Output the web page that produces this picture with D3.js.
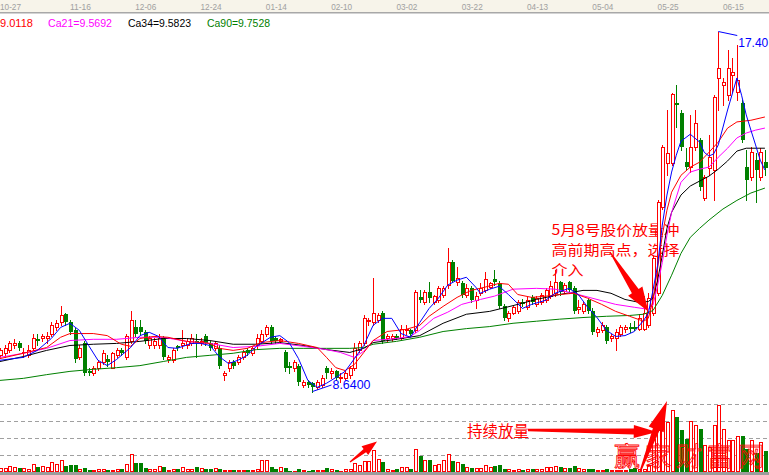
<!DOCTYPE html>
<html><head><meta charset="utf-8">
<script src="https://cdn.jsdelivr.net/npm/d3@7"></script>
<style>html,body{margin:0;padding:0;background:#fff;overflow:hidden}</style>
</head><body><svg id="c" width="769" height="475"></svg>
<script>
// ---------- DATA ----------
const dateLabels = ["10-27","11-16","12-06","12-24","01-14","02-10","03-02","03-22","04-13","05-04","05-25","06-15"];
const dateIndex  = [0,15,29,43,57,71,85,99,113,127,141,155];

const openP = [
9.52,9.57,9.64,9.76,9.83,9.59,9.54,9.71,9.91,9.93,
9.93,10.05,10.20,10.32,10.52,10.32,10.13,9.47,9.81,9.15,
9.10,9.22,9.35,9.44,9.22,9.52,9.64,9.47,9.88,10.20,
10.20,10.08,9.76,9.76,9.76,9.93,9.42,9.40,9.74,9.78,
9.76,9.81,9.88,9.81,9.98,9.83,9.69,9.71,9.05,9.20,
9.35,9.35,9.47,9.64,9.57,9.76,9.88,10.05,10.20,9.93,
9.86,9.61,9.25,9.20,9.27,8.81,8.86,8.84,8.74,8.81,
9.22,9.08,9.13,8.96,8.98,9.03,9.22,9.64,9.81,10.35,
10.32,10.37,10.54,9.93,9.93,10.00,9.95,10.13,10.13,10.13,
10.93,10.81,11.05,10.83,10.86,10.98,11.22,11.78,11.30,11.27,
10.98,11.15,10.86,11.03,11.10,11.18,11.37,11.27,10.71,10.44,
10.56,10.61,10.81,10.69,10.93,10.78,10.81,10.86,10.96,11.03,
11.30,11.08,11.30,11.15,10.64,10.61,10.86,10.61,10.10,10.13,
10.20,9.93,9.95,10.03,10.15,10.20,10.22,10.17,10.17,10.25,
10.54,11.03,13.12,14.20,14.20,15.66,15.41,14.22,14.10,14.59,
14.76,13.34,14.08,14.03,16.27,16.10,15.85,16.34,15.92,15.66,
14.10,13.85,14.27,13.85,14.22];
const highP = [
9.71,9.76,9.88,9.91,9.88,9.69,9.76,10.05,10.05,10.03,
10.08,10.32,10.37,10.73,10.56,10.37,10.18,9.76,9.86,9.22,
9.27,9.40,9.64,9.52,9.61,9.69,9.69,10.05,10.61,10.37,
10.39,10.13,9.98,9.93,10.05,9.98,9.52,9.69,9.78,10.13,
9.95,10.03,10.05,9.93,10.03,9.88,9.88,9.76,9.15,9.40,
9.40,9.52,9.64,9.69,9.74,10.05,10.13,10.25,10.25,10.00,
9.95,9.66,9.35,9.40,9.32,8.91,8.91,8.88,8.93,9.05,
9.27,9.20,9.17,9.08,9.13,9.25,9.81,9.88,10.49,10.44,
11.40,10.54,10.59,10.05,10.05,10.05,10.25,10.25,10.17,11.10,
11.10,11.10,11.30,11.00,11.20,11.20,12.12,11.83,11.66,11.32,
11.25,11.20,11.05,11.27,11.54,11.30,11.59,11.32,10.76,10.61,
10.73,10.86,10.88,10.93,10.98,10.96,11.03,11.15,11.34,11.59,
11.34,11.27,11.34,11.20,10.86,10.83,10.91,10.66,10.22,10.32,
10.25,10.05,10.15,10.27,10.25,10.30,10.35,10.52,10.96,11.03,
11.93,13.29,14.63,15.49,15.90,16.10,15.49,14.56,15.37,15.49,
14.81,13.90,14.88,15.85,17.40,16.27,16.95,16.76,17.08,15.73,
14.51,14.59,14.44,14.56,14.51];
const lowP = [
9.45,9.49,9.59,9.69,9.64,9.49,9.49,9.66,9.78,9.86,
9.81,10.00,10.13,10.27,10.27,10.03,9.35,9.42,9.03,9.03,
9.05,9.17,9.30,9.27,9.20,9.47,9.52,9.44,9.83,10.00,
10.03,9.83,9.71,9.71,9.71,9.42,9.35,9.35,9.64,9.71,
9.71,9.76,9.47,9.76,9.76,9.64,9.64,9.20,8.91,9.15,
9.20,9.30,9.42,9.52,9.52,9.69,9.83,10.00,9.83,9.81,
9.81,9.15,9.10,9.15,8.81,8.74,8.74,8.64,8.69,8.76,
8.96,8.96,8.93,8.86,8.93,8.98,9.17,9.59,9.76,10.25,
10.27,10.32,9.83,9.88,9.86,9.91,9.91,10.05,9.98,10.08,
10.81,10.76,10.81,10.78,10.81,10.93,11.15,11.30,11.22,10.93,
10.93,10.81,10.66,10.98,11.05,11.15,11.22,10.66,10.39,10.35,
10.52,10.56,10.71,10.64,10.76,10.73,10.76,10.81,10.91,10.96,
10.98,11.03,11.03,10.56,10.54,10.56,10.56,10.03,9.98,10.08,
9.83,9.86,9.66,9.98,10.08,10.10,10.13,10.13,10.13,10.20,
10.49,10.98,13.07,13.90,14.15,15.07,14.51,14.03,13.98,14.51,
13.54,13.29,13.90,13.29,15.49,15.61,15.73,15.92,15.73,14.71,
13.29,13.78,13.24,13.78,13.90];
const closeP = [
9.64,9.71,9.81,9.83,9.69,9.61,9.66,9.95,9.86,9.98,
9.98,10.25,10.30,10.49,10.32,10.08,9.44,9.71,9.08,9.08,
9.20,9.35,9.57,9.35,9.57,9.64,9.57,10.00,10.37,10.05,
10.08,9.88,9.93,9.88,9.95,9.47,9.47,9.64,9.69,9.83,
9.88,9.95,9.83,9.88,9.81,9.69,9.83,9.27,9.10,9.35,
9.27,9.47,9.59,9.57,9.69,9.93,10.05,10.20,9.88,9.88,
9.91,9.20,9.20,9.35,8.86,8.86,8.79,8.74,8.86,8.98,
9.10,9.13,8.98,9.00,9.08,9.20,9.71,9.83,10.42,10.39,
10.56,10.49,9.88,10.00,10.00,9.95,10.17,10.17,10.03,11.05,
10.86,11.05,10.91,10.96,11.15,11.15,11.78,11.34,11.40,10.98,
11.17,10.86,10.96,11.17,11.37,11.27,11.30,10.71,10.44,10.54,
10.69,10.81,10.76,10.86,10.81,10.91,10.98,11.10,11.20,11.30,
11.05,11.22,11.10,10.61,10.69,10.78,10.61,10.08,10.15,10.25,
9.88,10.00,10.10,10.20,10.20,10.15,10.17,10.44,10.54,10.91,
11.88,13.24,14.59,14.44,15.88,15.61,14.59,14.10,14.59,15.17,
13.61,13.85,14.34,15.80,16.51,16.17,16.51,16.41,16.22,14.76,
13.78,14.46,14.03,14.46,14.08];
const volume = [
.22,.22,.35,.27,.22,.22,.16,.45,.27,.35,
.27,.61,.45,.69,.35,.39,.39,.16,.24,.12,
.12,.18,.18,.12,.12,.18,.18,.45,1.04,.55,
.55,.24,.18,.18,.35,.29,.12,.18,.18,.27,
.18,.18,.29,.24,.18,.18,.24,.18,.12,.12,
.12,.12,.12,.12,.12,.18,.69,.69,.29,.18,
.27,.24,.06,.06,.18,.12,.08,.12,.12,.12,
.24,.18,.12,.06,.18,.18,.51,.43,.67,.63,
1.27,.75,.59,.18,.14,.18,.27,.27,.20,1.33,
.94,.69,.69,.39,.45,.71,1.04,.63,.57,.45,
.27,.24,.22,.22,.41,.31,.35,.41,.20,.16,
.12,.16,.12,.16,.16,.16,.16,.27,.27,.35,
.27,.24,.24,.35,.22,.16,.16,.16,.12,.12,
.16,.10,.10,.10,.12,.16,.22,.16,.20,.39,
1.96,2.45,3.43,2.94,3.67,3.24,2.49,1.96,3.00,2.78,
2.55,1.61,1.47,2.78,3.96,2.55,1.87,1.87,2.12,2.10,
1.35,1.90,1.14,1.76,1.24];

// moving-average lines at these candle indices
const ma5Idx = [0,5,8,11,13,15,17,19,21,23,25,28,30,32,34,36,38,41,43,45,47,49,51,53,55,58,60,62,64,66,68,70,72,74,76,78,80,82,84,86,88,90,92,94,96,98,100,102,103,105,107,109,111,112,114,117,119,122,124,126,128,130,132,134,136,138,139,140,141,142,143,144,145,146,148,150,151,152,153,154,156,158,159,160,161,162,163,164];
const ma5Val = [9.40,9.47,9.64,9.93,10.20,10.30,10.13,9.76,9.40,9.27,9.42,9.71,10.00,10.08,9.98,9.71,9.69,9.81,9.81,9.76,9.49,9.32,9.40,9.52,9.74,9.96,10.00,9.83,9.44,8.91,8.74,8.84,8.98,9.13,9.44,9.76,10.25,10.42,10.42,10.05,9.96,10.32,10.66,10.91,11.23,11.35,11.42,11.18,11.03,11.13,11.20,11.00,10.78,10.66,10.76,10.86,11.03,11.15,11.00,10.69,10.44,10.13,9.98,10.00,10.10,10.37,10.54,11.10,11.71,12.69,13.42,13.98,14.39,14.73,14.90,14.71,14.46,14.37,14.42,14.64,15.49,16.27,15.85,15.37,15.00,14.64,14.27,14.03];
const ma10Idx = [0,5,10,13,15,20,23,26,28,30,33,36,40,45,47,50,53,56,60,64,68,70,72,74,76,78,80,83,87,90,92,95,98,101,104,107,109,111,114,117,120,123,126,129,132,135,138,139,140,141,142,143,144,146,148,150,152,154,156,158,161,164];
const ma10Val = [9.44,9.57,9.71,9.96,10.05,10.05,10.00,9.79,9.74,9.93,9.98,9.96,9.86,9.81,9.69,9.64,9.69,9.83,9.88,9.81,9.71,9.47,9.22,9.15,9.30,9.59,9.88,10.10,10.15,10.25,10.47,10.71,10.93,11.10,11.18,11.27,11.25,11.00,10.93,10.96,11.00,11.03,10.91,10.76,10.59,10.47,10.35,10.42,10.86,11.64,12.44,13.05,13.49,13.90,14.10,14.22,14.46,14.71,15.05,15.20,15.24,15.32];
const ma21Idx = [0,5,10,15,20,25,30,35,40,45,50,55,60,65,70,73,76,78,80,85,88,90,93,96,99,103,106,110,115,119,123,128,132,136,139,140,141,142,143,144,146,148,150,152,154,156,158,160,162,164];
const ma21Val = [9.47,9.57,9.69,9.88,9.91,9.91,9.96,9.96,9.86,9.81,9.71,9.74,9.81,9.74,9.66,9.59,9.47,9.62,9.88,9.93,9.98,10.13,10.42,10.57,10.76,10.88,10.96,11.13,11.15,11.13,11.03,10.88,10.76,10.69,10.64,10.74,11.22,11.78,12.44,13.00,13.73,13.98,14.05,14.10,14.34,14.56,14.81,14.93,15.00,15.05];
const ma34Idx = [0,5,10,15,20,25,30,35,40,45,50,55,60,65,70,75,78,80,85,90,95,100,105,110,115,120,125,128,131,134,137,139,140,141,142,143,144,146,148,150,152,154,156,158,160,164];
const ma34Val = [9.37,9.49,9.64,9.76,9.79,9.81,9.86,9.93,9.93,9.88,9.79,9.79,9.83,9.76,9.66,9.59,9.69,9.83,9.91,10.00,10.30,10.52,10.59,10.73,10.88,11.00,11.10,11.10,11.03,10.88,10.81,10.83,10.91,11.35,11.95,12.61,13.00,13.42,13.64,13.76,13.88,14.05,14.25,14.49,14.56,14.56];
const ma90Idx = [0,5,10,15,20,25,30,35,40,45,50,55,60,65,70,75,78,80,85,90,95,100,105,110,115,120,125,130,135,138,140,142,144,146,148,150,152,155,158,161,164];
const ma90Val = [8.91,8.96,9.05,9.13,9.18,9.22,9.27,9.37,9.47,9.52,9.57,9.66,9.69,9.69,9.69,9.69,9.71,9.79,9.86,9.96,10.10,10.17,10.22,10.30,10.35,10.40,10.44,10.47,10.49,10.52,10.61,10.98,11.47,12.00,12.39,12.61,12.81,13.08,13.29,13.47,13.59];

const legendTexts = ["9.0118","Ca21=9.5692","Ca34=9.5823","Ca90=9.7528"];
const noteLines = ["5月8号股价放量冲","高前期高点，选择","介入"];
const volNote = "持续放量";
const watermark = "赢家财富网";

// ---------- DRAW ----------
const W = 769, H = 475;
const N = openP.length;
const RED = "#ff0000", GREEN = "#008000", BLUE = "#0000ff", MAG = "#ff00ff", BLACK = "#000000";
const svg = d3.select("#c");
const x = d3.scaleLinear().domain([0, N - 1]).range([0, (N - 1) * 4.664]);
const y = d3.scaleLinear().domain([8.64, 17.40]).range([391.5, 31.5]);
const yv = d3.scaleLinear().domain([0, 4]).range([472, 404]);
const cx = i => Math.round(x(i));

svg.append("rect").attr("width", W).attr("height", H).attr("fill", "#fff");
// top date band
svg.append("rect").attr("x", 0).attr("y", 0).attr("width", W).attr("height", 12).attr("fill", "#f7f4ea");
svg.append("rect").attr("x", 0).attr("y", 12).attr("width", W).attr("height", 1.5).attr("fill", "#a8a8a8");
svg.append("g").selectAll("text").data(dateLabels).join("text")
  .attr("x", (d, k) => x(dateIndex[k]))
  .attr("y", 10)
  .attr("font-family", "'Liberation Sans', Arial, sans-serif")
  .attr("font-size", 9.5).attr("fill", "#a0a0a0")
  .attr("textLength", 21).attr("lengthAdjust", "spacingAndGlyphs")
  .text(d => d);

// legend
const legendColors = [RED, MAG, BLACK, GREEN];
const legendX = [0, 48, 128, 207];
const legendW = [33, 64, 63, 63];
svg.append("g").selectAll("text").data(legendTexts).join("text")
  .attr("x", (d, k) => legendX[k]).attr("y", 26.5)
  .attr("font-family", "'Liberation Sans', Arial, sans-serif")
  .attr("font-size", 11.5).attr("fill", (d, k) => legendColors[k])
  .attr("textLength", (d, k) => legendW[k]).attr("lengthAdjust", "spacingAndGlyphs")
  .text(d => d);

// volume grid lines
svg.append("g").selectAll("line").data([1, 2, 3, 4]).join("line")
  .attr("x1", 0).attr("x2", W)
  .attr("y1", d => Math.round(yv(d)) + 0.5).attr("y2", d => Math.round(yv(d)) + 0.5)
  .attr("stroke", "#a0a0a0").attr("stroke-dasharray", "4,3").attr("shape-rendering", "crispEdges");
svg.append("rect").attr("x", 0).attr("y", 472).attr("width", W).attr("height", 3).attr("fill", "#9c9c9c");

// annotation text (under candles), three wrapped lines
const noteW = [128, 128, 32];
svg.append("g").selectAll("text").data(noteLines).join("text")
  .attr("x", 551.5).attr("y", (d, k) => 234.5 + k * 20.4)
  .attr("font-family", "'Noto Sans CJK SC', sans-serif").attr("font-size", 14)
  .attr("fill", RED)
  .attr("textLength", (d, k) => noteW[k]).attr("lengthAdjust", "spacingAndGlyphs")
  .text(d => d);

// candles
const data = d3.range(N).map(i => ({ i, o: openP[i], h: highP[i], l: lowP[i], c: closeP[i], v: volume[i] }));
const cg = svg.append("g").attr("shape-rendering", "crispEdges");
data.forEach(d => {
  const up = d.c >= d.o, col = up ? RED : GREEN, X = cx(d.i);
  cg.append("line").attr("x1", X + 0.5).attr("x2", X + 0.5)
    .attr("y1", Math.round(y(d.h))).attr("y2", Math.round(y(d.l)) + 1).attr("stroke", col);
  if (up) {
    const t = Math.round(y(d.c)), b = Math.round(y(d.o));
    cg.append("rect").attr("x", X - 0.5).attr("y", t + 0.5).attr("width", 3)
      .attr("height", Math.max(b - t, 0.01)).attr("fill", "#fff").attr("stroke", col);
  } else {
    const t = Math.round(y(d.o)), b = Math.round(y(d.c));
    cg.append("rect").attr("x", X - 1).attr("y", t).attr("width", 4)
      .attr("height", Math.max(b - t, 1)).attr("fill", col);
  }
});

// MA lines
const line = d3.line().x(p => x(p[0])).y(p => y(p[1]));
const maSets = [[ma90Idx, ma90Val, GREEN], [ma34Idx, ma34Val, BLACK], [ma21Idx, ma21Val, MAG], [ma10Idx, ma10Val, RED], [ma5Idx, ma5Val, BLUE]];
maSets.forEach(([idx, val, col]) => {
  svg.append("path").datum(idx.map((k, j) => [k, val[j]]))
    .attr("d", line).attr("fill", "none").attr("stroke", col).attr("stroke-width", 1);
});

// volume bars
const vg = svg.append("g").attr("shape-rendering", "crispEdges");
data.forEach(d => {
  const up = d.c >= d.o, col = up ? RED : GREEN, X = cx(d.i);
  const t = Math.round(yv(d.v));
  if (up) {
    vg.append("rect").attr("x", X - 0.5).attr("y", t + 0.5).attr("width", 3)
      .attr("height", Math.max(471 - t, 0.01)).attr("fill", "#fff").attr("stroke", col);
  } else {
    vg.append("rect").attr("x", X - 1).attr("y", t).attr("width", 4)
      .attr("height", Math.max(472 - t, 1)).attr("fill", col);
  }
});

// watermark
svg.append("text").attr("x", 614).attr("y", 466)
  .attr("font-family", "'Noto Sans CJK SC', sans-serif").attr("font-size", 26)
  .attr("letter-spacing", 5).attr("fill", "none").attr("stroke", RED).attr("stroke-width", 0.8)
  .text(watermark);

// volume note
svg.append("text").attr("x", 467).attr("y", 437)
  .attr("font-family", "'Noto Sans CJK SC', sans-serif").attr("font-size", 15.5).attr("fill", RED)
  .text(volNote);

// arrows
function arrow(x0, y0, x1, y1, tw, sw, hw, hf) {
  const dx = x1 - x0, dy = y1 - y0, L = Math.hypot(dx, dy), ux = dx / L, uy = dy / L, px = -uy, py = ux;
  const P = (a, b) => [x0 + ux * a + px * b, y0 + uy * a + py * b];
  const hb = L * hf;
  const pts = [P(0, tw), P(hb, sw), P(hb, hw), P(L, 0), P(hb, -hw), P(hb, -sw), P(0, -tw)];
  return "M" + pts.map(p => p[0].toFixed(1) + "," + p[1].toFixed(1)).join("L") + "Z";
}
const ag = svg.append("g").attr("fill", RED);
ag.append("path").attr("d", arrow(610, 252, x(139), y(10.59), 0.5, 4, 8.5, 0.66));
ag.append("path").attr("d", arrow(528, 430, 657, 432, 1.2, 3, 6.5, 0.82));
ag.append("path").attr("d", arrow(640, 472, 667, 401, 0.8, 3.5, 8, 0.6));
ag.append("path").attr("d", arrow(350, 462, 377, 441.5, 0.6, 2, 5.5, 0.55));

// extreme labels
const iMax = d3.maxIndex(highP), iMin = d3.minIndex(lowP);
const hx = x(iMax), hy = y(highP[iMax]);
svg.append("path").attr("d", `M${hx},${hy}L${hx + 19},${hy + 4}`).attr("stroke", BLUE).attr("fill", "none");
svg.append("text").attr("x", hx + 20).attr("y", hy + 15.5).attr("fill", BLUE)
  .attr("font-family", "'Liberation Sans', Arial, sans-serif").attr("font-size", 12)
  .attr("textLength", 30).attr("lengthAdjust", "spacingAndGlyphs")
  .text(highP[iMax].toFixed(2));
const lx = x(iMin), ly = y(lowP[iMin]);
svg.append("path").attr("d", `M${lx},${ly}L${lx + 19},${ly - 6.5}`).attr("stroke", BLUE).attr("fill", "none");
svg.append("text").attr("x", lx + 20).attr("y", ly - 3).attr("fill", BLUE)
  .attr("font-family", "'Liberation Sans', Arial, sans-serif").attr("font-size", 12)
  .attr("textLength", 38).attr("lengthAdjust", "spacingAndGlyphs")
  .text(lowP[iMin].toFixed(4));
</script>
</body></html>
